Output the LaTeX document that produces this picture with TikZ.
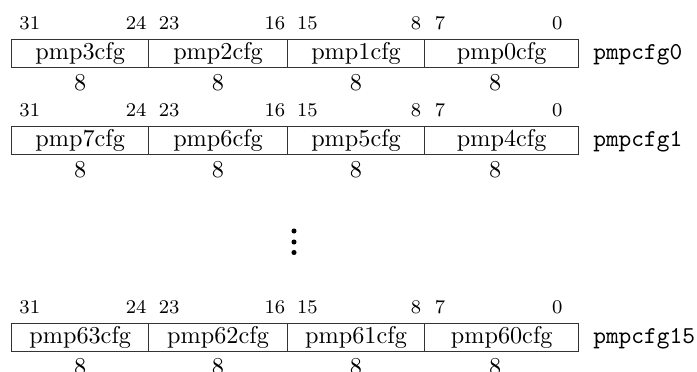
\documentclass[tikz,border=0pt]{standalone}
\usetikzlibrary{calc}
\begin{document}
\begin{tikzpicture}[x=0.4125pt,y=-0.4125pt,
  field/.style={draw=black!80,line width=0.45pt,anchor=north west,inner sep=0pt,minimum height=11.7pt,font=\normalsize},
  bitl/.style={anchor=base west,inner sep=0pt,font=\footnotesize},
  bitr/.style={anchor=base east,inner sep=0pt,font=\footnotesize},
  width/.style={anchor=north,inner sep=0pt,font=\normalsize},
  regname/.style={anchor=base west,inner sep=0pt,font=\ttfamily}]
\useasboundingbox (0,0) rectangle (697,371);
\foreach \r/\t/\a/\b/\c/\d/\reg in {1/39/3/2/1/0/pmpcfg0, 2/126/7/6/5/4/pmpcfg1, 3/323/63/62/61/60/pmpcfg15} {
  \node[field,minimum width=56.64pt] (f\r a) at (11,\t) {pmp\a cfg};
  \node[field,minimum width=57.09pt] (f\r b) at (148.3,\t) {pmp\b cfg};
  \node[field,minimum width=56.76pt] (f\r c) at (286.7,\t) {pmp\c cfg};
  \node[field,minimum width=63.40pt] (f\r d) at (424.3,\t) {pmp\d cfg};
  \node[bitl] (b\r o) at (19,\t-10) {31};
  \node[bitr] (b\r p) at (147,\t-10) {24};
  \node[bitl] (b\r q) at (158.3,\t-10) {23};
  \node[bitr] (b\r s) at (285.7,\t-10) {16};
  \node[bitl] (b\r t) at (296.7,\t-10) {15};
  \node[bitr] (b\r u) at (421.7,\t-10) {8};
  \node[bitl] (b\r v) at (434.3,\t-10) {7};
  \node[bitr] (b\r w) at (563,\t-10) {0};
  \node[width] (w\r a) at ([yshift=-2.1pt]f\r a.south) {8};
  \node[width] (w\r b) at ([yshift=-2.1pt]f\r b.south) {8};
  \node[width] (w\r c) at ([yshift=-2.1pt]f\r c.south) {8};
  \node[width] (w\r d) at ([yshift=-2.1pt,xshift=-2.7pt]f\r d.south) {8};
  \node[regname] (reg\r) at ([xshift=5.65pt]f\r d.base east) {\reg};
}
\foreach \y in {231,242,252.5} \fill (294,\y) circle[radius=1.05pt];
\end{tikzpicture}
\end{document}
